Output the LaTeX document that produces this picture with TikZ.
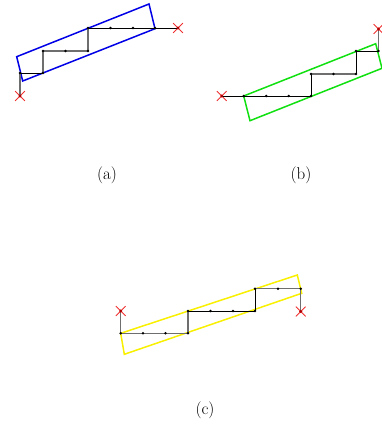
\documentclass[tikz,border=0pt]{standalone}
\usepackage{tikz}
\usetikzlibrary{shapes.misc}
\definecolor{PathGray}{HTML}{6E6E6E}
\definecolor{EndRed}{HTML}{F03030}
\definecolor{EndDark}{HTML}{B00000}
\definecolor{BoxBlue}{HTML}{0000E6}
\definecolor{BoxGreen}{HTML}{10E010}
\definecolor{BoxYellow}{HTML}{F8F000}
\tikzset{
  segthin/.style={draw=black,line width=0.8pt},
  segthick/.style={draw=PathGray,line width=1.5pt},
  gridpt/.style={circle,inner sep=0pt,minimum size=0pt},
  endpt/.style={cross out,draw=EndRed,line width=0.8pt,inner sep=0pt,minimum size=9pt},
  tilebox/.style={line width=1.5pt,line join=miter},
  caption/.style={font=\fontsize{17}{20}\selectfont}
}
\begin{document}
\begin{tikzpicture}[x=1pt,y=-1pt]
  \useasboundingbox (0,0) rectangle (382,426);

  % (a)
  \draw[tilebox,draw=BoxBlue] (16.7,56.7) -- (149,4) -- (155,28.7) -- (22.7,81) -- cycle;
  \node[endpt] (aS) at (20,96) {};
  \node[endpt] (aE) at (178,28) {};
  \foreach \n/\x/\y in {1/20/73,2/43/73,3/43/51,4/65.5/51,5/88/51,6/88/28,7/110.5/28,8/133/28,9/155/28}
    \node[gridpt] (a\n) at (\x,\y) {};
  \draw[segthick] (aS.center) -- (a1);
  \draw[segthin] (a1) -- (a2);
  \draw[segthick] (a2) -- (a3) -- (a5) -- (a6);
  \draw[segthin] (a6) -- (a9) -- (aE.center);
  \node[caption] (capa) at (107,175) {(a)};

  % (b)
  \draw[tilebox,draw=BoxGreen] (243.7,96) -- (375.7,43.7) -- (382,68.3) -- (250,120.7) -- cycle;
  \node[endpt] (bS) at (221.7,96) {};
  \node[endpt] (bE) at (378.5,29) {};
  \foreach \n/\x/\y in {1/243.7/96,2/266.3/96,3/288.7/96,4/311/96,5/311/74,6/333.5/74,7/356/74,8/356/51,9/378.5/51}
    \node[gridpt] (b\n) at (\x,\y) {};
  \draw[segthin] (bS.center) -- (b1) -- (b4) -- (b5);
  \draw[segthick] (b5) -- (b7);
  \draw[segthin] (b7) -- (b8) -- (b9);
  \draw[segthick] (b9) -- (bE.center);
  \node[caption] (capb) at (301,175) {(b)};

  % (c)
  \draw[tilebox,draw=BoxYellow] (120.7,333.3) -- (297.3,275) -- (301.7,293.3) -- (124.3,354.3) -- cycle;
  \node[endpt] (cS) at (120.7,311) {};
  \node[endpt] (cE) at (300.7,311.5) {};
  \foreach \n/\x/\y in {1/120.7/333.3,2/143/333.3,3/165.5/333.3,4/188/333.3,5/188/311,6/210.5/311,7/233/311,8/255/311,9/255/288.7,10/278/288.7,11/300.7/288.7}
    \node[gridpt] (c\n) at (\x,\y) {};
  \draw[segthick] (cS.center) -- (c1) -- (c4) -- (c5);
  \draw[segthin] (c5) -- (c8) -- (c9);
  \draw[segthick] (c9) -- (c11) -- (cE.center);
  \node[caption] (capc) at (205,410) {(c)};

  % dots and end markers on top
  \foreach \p in {a1,a2,a3,a4,a5,a6,a7,a8,a9,b1,b2,b3,b4,b5,b6,b7,b8,b9,c1,c2,c3,c4,c5,c6,c7,c8,c9,c10,c11}
    \fill (\p) circle (1.4pt);
  \foreach \e in {aS,aE,bS,bE,cS,cE}
    \fill[EndDark] (\e.center) circle (1.6pt);
\end{tikzpicture}
\end{document}
